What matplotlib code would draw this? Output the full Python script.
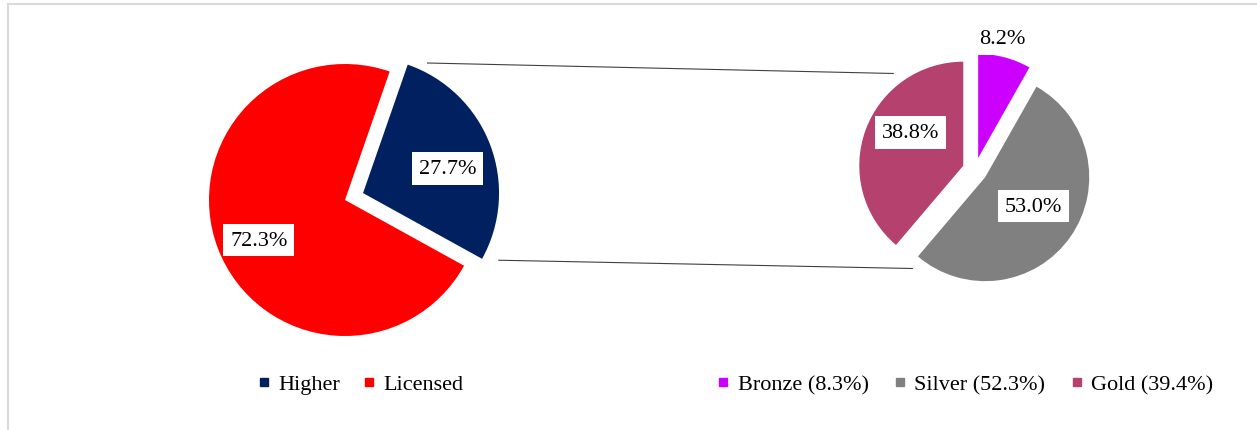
import numpy as np
import matplotlib
matplotlib.use("Agg")
import matplotlib.pyplot as plt
from matplotlib.lines import Line2D

plt.rcParams['font.family'] = ['Liberation Serif', 'DejaVu Serif']

# Main split of qualifications
main_labels = ["Higher", "Licensed"]
main_values = [27.7, 72.3]
main_colors = ["#002060", "#FF0000"]

# Breakdown of the "Higher" share
sub_labels = ["Bronze (8.3%)", "Silver (52.3%)", "Gold (39.4%)"]
sub_values = [8.2, 53.0, 38.8]
sub_colors = ["#CC00FF", "#808080", "#B4416E"]

W, H = 1257, 431
fig = plt.figure(figsize=(W / 100, H / 100), dpi=100)
ax = fig.add_axes([0, 0, 1, 1])

# Left pie (explode offsets are in data units, i.e. pixels here)
r1 = 136
c1 = (345, H - 201)
w1, _ = ax.pie(main_values, colors=main_colors, startangle=-28.9,
               counterclock=True, radius=r1, center=c1,
               explode=[0.142 * r1, 0.0], frame=True,
               wedgeprops=dict(linewidth=0))

# Right pie
r2 = 104
c2 = (975, H - 171)
w2, _ = ax.pie(sub_values, colors=sub_colors, startangle=90,
               counterclock=False, radius=r2, center=c2,
               explode=[0.12 * r2] * 3, frame=True,
               wedgeprops=dict(linewidth=0))

ax.set_xlim(0, W)
ax.set_ylim(0, H)
ax.set_aspect('equal')
ax.axis('off')


def wedge_point(w, ang, frac):
    cx, cy = w.center
    a = np.deg2rad(ang)
    return cx + frac * w.r * np.cos(a), cy + frac * w.r * np.sin(a)


def mid_angle(w):
    return (w.theta1 + w.theta2) / 2


# Percentage labels
box = dict(boxstyle="square,pad=0.3", facecolor="white", edgecolor="none")
for w, v, d, da in zip(w1, main_values, [0.79, 0.70], [-4, 4]):
    cx, cy = c1
    a = np.deg2rad(mid_angle(w) + da)
    ax.text(cx + d * r1 * np.cos(a), cy + d * r1 * np.sin(a), f"{v:.1f}%",
            ha="center", va="center", fontsize=16, color="#000000", bbox=box)
for w, v, d, da in zip(w2, sub_values, [1.29, 0.66, 0.72], [3, 3, -10]):
    cx, cy = c2
    a = np.deg2rad(mid_angle(w) + da)
    ax.text(cx + d * r2 * np.cos(a), cy + d * r2 * np.sin(a), f"{v:.1f}%",
            ha="center", va="center", fontsize=16, color="#000000", bbox=box)

# Connector lines from the "Higher" slice to the breakdown pie
hw = w1[0]
gw = w2[2]
p_top = wedge_point(hw, hw.theta2 - 7, 1.066)
p_bot = wedge_point(hw, hw.theta1 + 2.5, 1.11)
q_top = wedge_point(gw, 127, 1.11)
q_bot = wedge_point(gw, 244, 1.10)
for p, q in [(p_top, q_top), (p_bot, q_bot)]:
    ax.plot([p[0], q[0]], [p[1], q[1]], color="#404040", lw=0.8,
            solid_capstyle="butt")

# Chart area border (top and left edges visible)
ax.plot([8, W + 5], [H - 5, H - 5], color="#D9D9D9", lw=1.5, clip_on=False)
ax.plot([8, 8], [H - 5, -5], color="#D9D9D9", lw=1.5, clip_on=False)

# Legends
def handles(colors):
    return [Line2D([], [], marker='s', linestyle='none', color=c,
                   markersize=6) for c in colors]

leg_kw = dict(frameon=False, fontsize=16, handlelength=0.6,
              handletextpad=0.35, borderpad=0, loc="center")
fig.legend(handles(main_colors), main_labels, ncol=2, columnspacing=1.0,
           bbox_to_anchor=(360 / W, 1 - 385 / H), **leg_kw)
fig.legend(handles(sub_colors), sub_labels, ncol=3, columnspacing=1.1,
           bbox_to_anchor=(965 / W, 1 - 385 / H), **leg_kw)

fig.savefig("out.png", dpi=100)
